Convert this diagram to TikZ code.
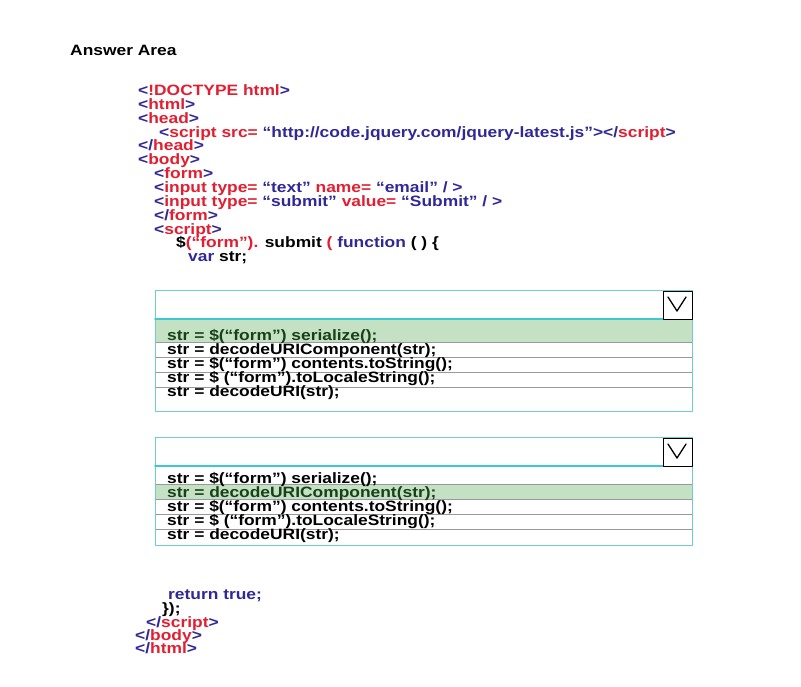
\documentclass[tikz,border=0pt]{standalone}
\usepackage{fontspec}
\setmainfont{Liberation Sans}[FakeStretch=1.16]
\definecolor{tagred}{RGB}{226,30,48}
\definecolor{tagblue}{RGB}{48,40,150}
\definecolor{khung}{RGB}{110,205,205}
\definecolor{vach}{RGB}{60,200,210}
\definecolor{chon}{RGB}{197,225,195}
\definecolor{chuchon}{RGB}{25,65,25}
\newcommand{\blu}[1]{\textcolor{tagblue}{#1}}
\newcommand{\rd}[1]{\textcolor{tagred}{#1}}
\begin{document}
\begin{tikzpicture}[x=1pt,y=-1pt,line cap=round,line join=round,
	codeline/.style={anchor=base west,inner sep=0pt,font=\fontsize{15}{15}\selectfont\bfseries}]
	\useasboundingbox (0,0) rectangle (801,686);
	\node[codeline] (tieude) at (70,55) {Answer Area};
	%Vẽ mã đầu
	\node[codeline] (doctype) at (138,95.5) {\blu{<}\rd{!DOCTYPE html}\blu{>}};
	\node[codeline] (html) at (138,109.3) {\blu{<}\rd{html}\blu{>}};
	\node[codeline] (head) at (138,123.2) {\blu{<}\rd{head}\blu{>}};
	\node[codeline] (jq) at (159,137) {\blu{<}\rd{script src=} \blu{“http://code.jquery.com/jquery-latest.js”></}\rd{script}\blu{>}};
	\node[codeline] (headend) at (138,150.9) {\blu{</}\rd{head}\blu{>}};
	\node[codeline] (body) at (138,164.7) {\blu{<}\rd{body}\blu{>}};
	\node[codeline] (form) at (154,178.6) {\blu{<}\rd{form}\blu{>}};
	\node[codeline] (email) at (154,192.4) {\blu{<}\rd{input type=} \blu{“text”} \rd{name=} \blu{“email” / >}};
	\node[codeline] (submit) at (154,206.3) {\blu{<}\rd{input type=} \blu{“submit”} \rd{value=} \blu{“Submit” / >}};
	\node[codeline] (formend) at (154,220.1) {\blu{</}\rd{form}\blu{>}};
	\node[codeline] (script) at (154,234) {\blu{<}\rd{script}\blu{>}};
	\node[codeline] (ham) at (176,247.8) {\$\rd{(“form”).} submit \rd{(} \blu{function} ( ) \{};
	\node[codeline] (bien) at (188,261.3) {\blu{var} str;};
	%Vẽ hộp chọn 1
	\fill[chon] (155,319) rectangle (692,342);
	\foreach \y in {342,357,372,387}
	\draw[gray!80] (155,\y)--(692,\y);
	\draw[khung] (155,290) rectangle (692,411);
	\draw[vach,line width=1.6pt] (155,319)--(663,319);
	\draw[black] (663,291) rectangle (692,319);
	\draw[black,line width=1.3pt] (668,297)--(677,311)--(686,297);
	\foreach \t/\y/\m [count=\i] in {{str = \$(“form”) serialize();}/340.5/chuchon,
		{str = decodeURIComponent(str);}/354.5/black,
		{str = \$(“form”) contents.toString();}/368.5/black,
		{str = \$ (“form”).toLocaleString();}/382.5/black,
		{str = decodeURI(str);}/396.5/black}
	\node[codeline,text=\m] (mot\i) at (167,\y) {\t};
	%Vẽ hộp chọn 2
	\fill[chon] (155,484) rectangle (692,499);
	\foreach \y in {484,499,514,529}
	\draw[gray!80] (155,\y)--(692,\y);
	\draw[khung] (155,437) rectangle (692,545);
	\draw[vach,line width=1.6pt] (155,466)--(663,466);
	\draw[black] (663,438) rectangle (692,466);
	\draw[black,line width=1.3pt] (668,444)--(677,458)--(686,444);
	\foreach \t/\y/\m [count=\i] in {{str = \$(“form”) serialize();}/483/black,
		{str = decodeURIComponent(str);}/497.5/chuchon,
		{str = \$(“form”) contents.toString();}/511.5/black,
		{str = \$ (“form”).toLocaleString();}/525.5/black,
		{str = decodeURI(str);}/539/black}
	\node[codeline,text=\m] (hai\i) at (167,\y) {\t};
	%Vẽ mã cuối
	\node[codeline] (trave) at (168,599.5) {\blu{return true;}};
	\node[codeline] (dong) at (162,613.5) {\});};
	\node[codeline] (scriptend) at (146,627) {\blu{</}\rd{script}\blu{>}};
	\node[codeline] (bodyend) at (135,640) {\blu{</}\rd{body}\blu{>}};
	\node[codeline] (htmlend) at (135,653) {\blu{</}\rd{html}\blu{>}};
\end{tikzpicture}
\end{document}
